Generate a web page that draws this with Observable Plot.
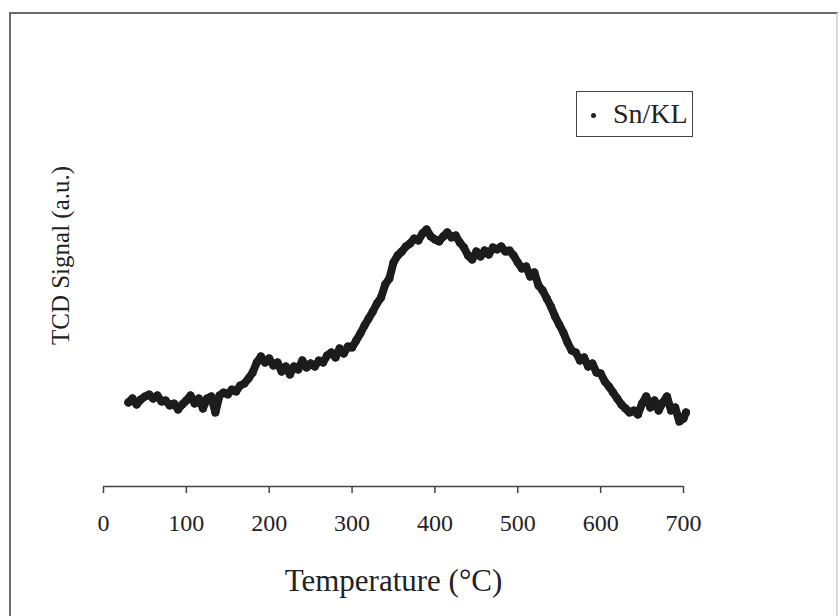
<!DOCTYPE html>
<html>
<head>
<meta charset="utf-8">
<script src="https://cdn.jsdelivr.net/npm/d3@7"></script>
<script src="https://cdn.jsdelivr.net/npm/@observablehq/plot@0.6"></script>
<style>
  html, body { margin: 0; padding: 0; background: #fff; }
  #wrap { position: relative; width: 839px; height: 616px; overflow: hidden; }
  #frame { position: absolute; left: 9px; top: 12px; width: 825px; height: 620px;
           border-left: 2px solid #6a6a6a; border-top: 2px solid #6a6a6a; border-right: 2px solid #d8d8d8; }
  #legend { position: absolute; left: 576px; top: 91px; width: 115px; height: 44px;
            border: 1.5px solid #444; background: #fff; font-family: "Liberation Serif", serif;
            font-size: 28px; color: #222; }
  #legend .dot { position: absolute; left: 14px; top: 21px; width: 5px; height: 5px; border-radius: 50%; background: #222; }
  #legend .txt { position: absolute; left: 36px; top: 4px; line-height: 36px; }
  #chart { position: absolute; left: 0; top: 0; }
</style>
</head>
<body>
<div id="wrap">
  <div id="frame"></div>
  <div id="chart"></div>
  <div id="legend"><span class="dot"></span><span class="txt">Sn/KL</span></div>
</div>
<script>
// Temperature (°C) and TCD signal (a.u.)
const temperature = [30,35,40,45,50,55,60,65,70,75,80,85,90,95,100,105,110,115,120,125,130,135,140,145,150,155,160,165,170,175,180,185,190,195,200,205,210,215,220,225,230,235,240,245,250,255,260,265,270,275,280,285,290,295,300,305,310,315,320,325,330,335,340,345,350,355,360,365,370,375,380,385,390,395,400,405,410,415,420,425,430,435,440,445,450,455,460,465,470,475,480,485,490,495,500,505,510,515,520,525,530,535,540,545,550,555,560,565,570,575,580,585,590,595,600,605,610,615,620,625,630,635,640,645,650,655,660,665,670,675,680,685,690,695,700,703];
const signal = [0.84,0.88,0.82,0.87,0.90,0.92,0.88,0.91,0.85,0.86,0.81,0.83,0.77,0.82,0.86,0.91,0.83,0.88,0.78,0.88,0.90,0.74,0.91,0.94,0.92,0.97,0.95,1.01,1.03,1.08,1.14,1.24,1.30,1.24,1.28,1.21,1.24,1.15,1.20,1.12,1.20,1.17,1.26,1.19,1.23,1.20,1.26,1.24,1.31,1.34,1.29,1.38,1.33,1.40,1.39,1.46,1.53,1.61,1.68,1.75,1.83,1.89,2.02,2.08,2.24,2.31,2.35,2.40,2.43,2.48,2.46,2.53,2.57,2.50,2.47,2.45,2.50,2.54,2.49,2.51,2.44,2.39,2.31,2.27,2.35,2.30,2.36,2.32,2.39,2.37,2.40,2.35,2.36,2.31,2.24,2.18,2.20,2.10,2.14,2.01,1.96,1.88,1.80,1.70,1.62,1.54,1.44,1.36,1.34,1.26,1.29,1.20,1.23,1.14,1.13,1.05,1.00,0.94,0.88,0.82,0.78,0.74,0.76,0.72,0.83,0.90,0.79,0.86,0.76,0.84,0.90,0.76,0.79,0.65,0.68,0.74];
const xTicks = [0,100,200,300,400,500,600,700];
const seriesName = "Sn/KL";
const xLabel = "Temperature (°C)";
const yLabel = "TCD Signal (a.u.)";

const data = temperature.map((t, i) => ({t, s: signal[i]}));
const serif = "Liberation Serif, Times New Roman, serif";

const chart = Plot.plot({
  width: 839,
  height: 616,
  marginLeft: 103,
  marginRight: 156,
  marginTop: 16,
  marginBottom: 130,
  style: {background: "transparent", fontFamily: serif, color: "#222"},
  x: {domain: [0, 700], label: null},
  y: {domain: [0, 4.7], axis: null},
  marks: [
    Plot.ruleY([0], {stroke: "#444", strokeWidth: 1.5}),
    Plot.axisX({ticks: xTicks, tickSize: 7, tickPadding: 20, fontSize: 24, stroke: "#444", strokeWidth: 1.5, fill: "#222", label: null}),
    Plot.line(data, {x: "t", y: "s", stroke: "#1c1c1c", strokeWidth: 8, strokeLinejoin: "round", strokeLinecap: "round"}),
    Plot.dot(data, {x: "t", y: "s", r: 4, fill: "#1c1c1c"}),
    Plot.text([xLabel], {text: d => d, frameAnchor: "bottom", dy: 104, fontSize: 31, fontFamily: serif, fill: "#222"}),
    Plot.text([yLabel], {text: d => d, frameAnchor: "left", textAnchor: "middle", dx: -43, dy: 4, rotate: -90, fontSize: 25, fontFamily: serif, fill: "#222"})
  ]
});
document.getElementById("chart").appendChild(chart);
</script>
</body>
</html>
